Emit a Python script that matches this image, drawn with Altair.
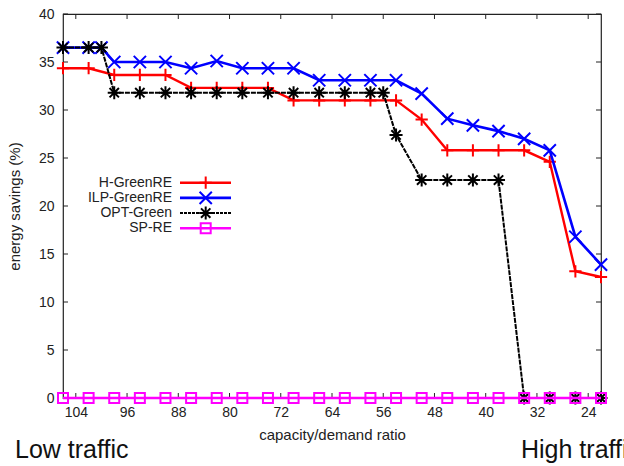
import altair as alt
import pandas as pd

# capacity/demand ratios evaluated for each scheme
ratio = [106, 102, 98, 94, 90, 86, 82, 78, 74, 70, 66, 62, 58, 54, 50, 46, 42, 38, 34, 30, 26, 22]
ratio_ilp = [106, 102, 100, 98, 94, 90, 86, 82, 78, 74, 70, 66, 62, 58, 54, 50, 46, 42, 38, 34, 30, 26, 22]
ratio_opt = [106, 102, 100, 98, 94, 90, 86, 82, 78, 74, 70, 66, 62, 58, 56, 54, 50, 46, 42, 38, 34, 30, 26, 22]

# energy savings (%)
h_greenre = [34.35, 34.35, 33.65, 33.65, 33.65, 32.3, 32.3, 32.3, 32.3, 31.0, 31.0, 31.0, 31.0, 31.0,
             29.0, 25.8, 25.8, 25.8, 25.8, 24.6, 13.2, 12.6]
ilp_greenre = [36.5, 36.5, 36.5, 35.0, 35.0, 35.0, 34.35, 35.1, 34.35, 34.35, 34.35, 33.1, 33.1, 33.1,
               33.1, 31.7, 29.1, 28.4, 27.8, 27.0, 25.8, 16.8, 13.9]
opt_green = [36.5, 36.5, 36.5, 31.8, 31.8, 31.8, 31.8, 31.8, 31.8, 31.8, 31.8, 31.8, 31.8, 31.8, 31.8,
             27.4, 22.7, 22.7, 22.7, 22.7, 0.0, 0.0, 0.0, 0.0]
sp_re = [0.0] * len(ratio)

x_ticks = [104, 96, 88, 80, 72, 64, 56, 48, 40, 32, 24]
y_ticks = [0, 5, 10, 15, 20, 25, 30, 35, 40]

FONT = "Liberation Sans"
W, H = 538, 384

PLUS = "M-1,0L1,0M0,-1L0,1"
CROSS = "M-1,-1L1,1M-1,1L1,-1"
STAR = "M-1,0L1,0M0,-1L0,1M-0.72,-0.72L0.72,0.72M-0.72,0.72L0.72,-0.72"

series = [
    # name, x, y, colour, marker shape, marker size, line width, dash
    ("H-GreenRE", ratio, h_greenre, "#ff0000", PLUS, 150, 2.4, None),
    ("ILP-GreenRE", ratio_ilp, ilp_greenre, "#0000ff", CROSS, 150, 2.6, None),
    ("OPT-Green", ratio_opt, opt_green, "#000000", STAR, 170, 2.0, [5, 1]),
    ("SP-RE", ratio, sp_re, "#ff00ff", "square", 100, 2.4, None),
]

x_scale = alt.Scale(domain=[22, 106], reverse=True, nice=False, zero=False)
y_scale = alt.Scale(domain=[0, 40], nice=False)
x_axis = alt.Axis(values=x_ticks, title="capacity/demand ratio", grid=False, domain=False, ticks=False,
                  labelFontSize=14, labelPadding=7, labelColor="#222", labelFont=FONT,
                  titleFontSize=15, titleFontWeight="normal", titleFont=FONT, titleColor="#222",
                  titlePadding=8)
y_axis = alt.Axis(values=y_ticks, title="energy savings (%)", grid=False, domain=False, ticks=False,
                  labelFontSize=14, labelPadding=9, labelColor="#222", labelFont=FONT,
                  titleFontSize=15, titleFontWeight="normal", titleFont=FONT, titleColor="#222",
                  titlePadding=16)


def X():
    return alt.X("ratio:Q", scale=x_scale, axis=x_axis)


def Y():
    return alt.Y("savings:Q", scale=y_scale, axis=y_axis)


layers = []

# inward tick marks on all four sides of the frame
xt = pd.DataFrame({"ratio": x_ticks})
yt = pd.DataFrame({"savings": y_ticks})
layers.append(alt.Chart(xt).mark_rule(color="#222", strokeWidth=1).encode(
    x=X(), y=alt.value(H), y2=alt.value(H - 5)))
layers.append(alt.Chart(xt).mark_rule(color="#222", strokeWidth=1).encode(
    x=X(), y=alt.value(0), y2=alt.value(5)))
layers.append(alt.Chart(yt).mark_rule(color="#222", strokeWidth=1).encode(
    y=Y(), x=alt.value(0), x2=alt.value(5)))
layers.append(alt.Chart(yt).mark_rule(color="#222", strokeWidth=1).encode(
    y=Y(), x=alt.value(W - 5), x2=alt.value(W)))

# data series
for name, xs, ys, col, shape, size, lw, dash in series:
    df = pd.DataFrame({"ratio": xs, "savings": ys, "scheme": name})
    line_kw = dict(color=col, strokeWidth=lw, clip=False)
    if dash:
        line_kw["strokeDash"] = dash
    layers.append(alt.Chart(df).mark_line(**line_kw).encode(x=X(), y=Y()))
    layers.append(alt.Chart(df).mark_point(shape=shape, size=size, filled=False, color=col,
                                           strokeWidth=2, opacity=1, clip=False).encode(x=X(), y=Y()))

# key in the upper-left part of the plot: label, then line sample with marker
leg_y0, leg_step = 168.7, 15.2
for i, (name, xs, ys, col, shape, size, lw, dash) in enumerate(series):
    yy = leg_y0 + i * leg_step
    lab = pd.DataFrame({"label": [name]})
    layers.append(alt.Chart(lab).mark_text(align="right", baseline="middle", fontSize=14, font=FONT,
                                           color="#222").encode(
        text="label:N", x=alt.value(109), y=alt.value(yy)))
    rule_kw = dict(color=col, strokeWidth=lw)
    if dash:
        rule_kw["strokeDash"] = [3, 1]
    layers.append(alt.Chart(lab).mark_rule(**rule_kw).encode(
        x=alt.value(117), x2=alt.value(168), y=alt.value(yy)))
    layers.append(alt.Chart(lab).mark_point(shape=shape, size=size, filled=False, color=col,
                                            strokeWidth=2, opacity=1).encode(
        x=alt.value(142.7), y=alt.value(yy)))

# traffic annotations below the axis
notes = pd.DataFrame({"note": ["Low traffic", "High traffic"]})
layers.append(alt.Chart(notes).transform_filter(alt.datum.note == "Low traffic").mark_text(
    align="left", baseline="alphabetic", fontSize=25, font=FONT, color="#111").encode(
    text="note:N", x=alt.value(-48), y=alt.value(444)))
layers.append(alt.Chart(notes).transform_filter(alt.datum.note == "High traffic").mark_text(
    align="left", baseline="alphabetic", fontSize=25, font=FONT, color="#111").encode(
    text="note:N", x=alt.value(458), y=alt.value(444)))

chart = alt.layer(*layers).properties(
    width=W, height=H,
    autosize=alt.AutoSizeParams(type="none"),
    padding={"left": 63, "top": 14, "right": 23, "bottom": 68},
    background="white",
).configure_view(stroke="#222", strokeWidth=1.2)

chart.save("out.html", embed_options={"renderer": "svg", "actions": False})
